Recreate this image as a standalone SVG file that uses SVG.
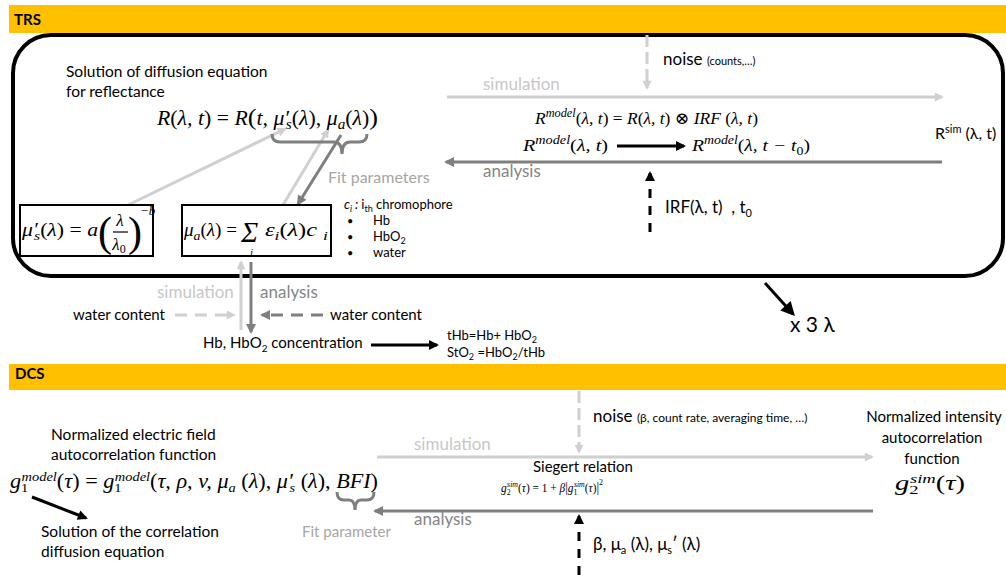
<svg xmlns="http://www.w3.org/2000/svg" width="1006" height="575" viewBox="0 0 1006 575">
<style>
.t{font-family:Lato,"Liberation Sans","DejaVu Sans",sans-serif;fill:#000}
.b{font-weight:bold}
.m{font-family:"Liberation Serif","DejaVu Serif",serif;font-style:italic;fill:#000}
.up{font-style:normal}
.sim{fill:#c8c8c8}
.ana{fill:#868686}
.fit{fill:#a6a6a6}
.lg{stroke:#d0d0d0;stroke-width:3;fill:none}
.dg{stroke:#7f7f7f;stroke-width:3;fill:none}
.bk{stroke:#000;stroke-width:3;fill:none}
.box{fill:#fff;stroke:#000;stroke-width:2}
</style>
<defs>
<marker id="mL" viewBox="0 0 10 10" refX="8" refY="5" markerWidth="10" markerHeight="9" markerUnits="userSpaceOnUse" orient="auto"><path d="M0,0 L10,5 L0,10 z" fill="#d0d0d0"/></marker>
<marker id="mD" viewBox="0 0 10 10" refX="8" refY="5" markerWidth="11" markerHeight="10" markerUnits="userSpaceOnUse" orient="auto"><path d="M0,0 L10,5 L0,10 z" fill="#7f7f7f"/></marker>
<marker id="mK" viewBox="0 0 10 10" refX="8" refY="5" markerWidth="11" markerHeight="10" markerUnits="userSpaceOnUse" orient="auto"><path d="M0,0 L10,5 L0,10 z" fill="#000"/></marker>
<marker id="mKb" viewBox="0 0 10 10" refX="8" refY="5" markerWidth="15" markerHeight="14" markerUnits="userSpaceOnUse" orient="auto"><path d="M0,0 L10,5 L0,10 z" fill="#000"/></marker>
</defs>
<rect width="1006" height="575" fill="#fff"/>

<g id="trs-header">
<rect x="9" y="5" width="997" height="28" fill="#FFC000"/>
<text class="t b" x="14" y="25" font-size="15">TRS</text>
</g>
<g id="trs-frame">
<rect x="13" y="35" width="990" height="241" rx="38" ry="38" fill="none" stroke="#000" stroke-width="4"/>
</g>
<g id="dcs-header">
<rect x="9" y="364" width="997" height="26" fill="#FFC000"/>
<text class="t b" x="15" y="379" font-size="15">DCS</text>
</g>

<g id="connectors">
<line class="lg" x1="447" y1="97" x2="942" y2="97" marker-end="url(#mL)"/>
<line class="dg" x1="942" y1="162" x2="446" y2="162" marker-end="url(#mD)"/>
<line class="lg" x1="647" y1="35" x2="647" y2="88" stroke-dasharray="12 5" marker-end="url(#mL)"/>
<line class="bk" x1="650" y1="232" x2="650" y2="173" stroke-dasharray="9 8" marker-end="url(#mK)"/>
<line class="bk" x1="617" y1="146" x2="684" y2="146" stroke-width="2.5" marker-end="url(#mK)"/>
<line class="lg" x1="128" y1="205" x2="285" y2="129" marker-end="url(#mL)"/>
<line class="lg" x1="283" y1="205" x2="328" y2="130" marker-end="url(#mL)"/>
<line class="dg" x1="341" y1="135" x2="298" y2="204" marker-end="url(#mD)"/>
<line class="lg" x1="241" y1="330" x2="241" y2="262" marker-end="url(#mL)"/>
<line class="dg" x1="251" y1="262" x2="251" y2="332" marker-end="url(#mD)"/>
<line class="lg" x1="175" y1="315" x2="234" y2="315" stroke-dasharray="12 8" marker-end="url(#mL)"/>
<line class="dg" x1="323" y1="315" x2="262" y2="315" stroke-dasharray="12 8" marker-end="url(#mD)"/>
<line class="bk" x1="371" y1="345" x2="437" y2="345" marker-end="url(#mK)"/>
<line class="bk" x1="765" y1="283" x2="793" y2="314" stroke-width="5" marker-end="url(#mKb)"/>
<line class="lg" x1="377" y1="457" x2="872" y2="457" marker-end="url(#mL)"/>
<line class="dg" x1="873" y1="511" x2="375" y2="511" marker-end="url(#mD)"/>
<line class="lg" x1="579" y1="391" x2="579" y2="452" stroke-dasharray="12 5" marker-end="url(#mL)"/>
<line class="bk" x1="579" y1="575" x2="579" y2="516" stroke-dasharray="9 8" marker-end="url(#mK)"/>
<line class="bk" x1="32" y1="497" x2="86" y2="518" marker-end="url(#mK)"/>
<path class="dg" stroke-width="2.5" d="M272,134 Q272,142 280,142 L334,142 Q342,142 342,154 Q342,142 350,142 L359,142 Q367,142 367,134"/>
<path class="dg" stroke-width="2.5" d="M337,492 Q337,500 344,500 L349,500 Q355,500 355,510 Q355,500 361,500 L367,500 Q374,500 374,492"/>
</g>

<g id="reflectance">
<text class="t" x="66" y="77" font-size="15.5">Solution of diffusion equation</text>
<text class="t" x="66" y="97" font-size="15.5">for reflectance</text>
<text class="m" x="157" y="125" font-size="20" textLength="221" lengthAdjust="spacingAndGlyphs">R<tspan class="up">(</tspan>λ, t<tspan class="up">) = </tspan>R<tspan class="up" font-size="24">(</tspan>t, μ′<tspan dx="-3" dy="4" font-size="14">s</tspan><tspan dy="-4" class="up">(</tspan>λ<tspan class="up">),</tspan> μ<tspan dy="4" font-size="14">a</tspan><tspan dy="-4" class="up">(</tspan>λ<tspan class="up">)</tspan><tspan class="up" font-size="24">)</tspan></text>
</g>

<g id="mus-box">
<rect class="box" x="20" y="205" width="133" height="51"/>
<text class="m" x="22" y="236" font-size="18" textLength="76" lengthAdjust="spacingAndGlyphs">μ′<tspan dx="-3" dy="4" font-size="13">s</tspan><tspan dy="-4" class="up">(</tspan>λ<tspan class="up">) = </tspan>a</text>
<text class="m up" x="98" y="246" font-size="42" font-style="normal">(</text>
<text class="m" x="120" y="226" font-size="17" text-anchor="middle">λ</text>
<line x1="113" y1="232" x2="128" y2="232" stroke="#000" stroke-width="1.2"/>
<text class="m" x="119" y="250" font-size="17" text-anchor="middle">λ<tspan class="up" dy="3" font-size="12">0</tspan></text>
<text class="m up" x="128" y="246" font-size="42" font-style="normal">)</text>
<text class="m" x="140" y="215" font-size="13">−b</text>
</g>

<g id="mua-box">
<rect class="box" x="182" y="205" width="149" height="51"/>
<text class="m" x="184" y="236" font-size="18" textLength="53" lengthAdjust="spacingAndGlyphs">μ<tspan dy="4" font-size="13">a</tspan><tspan dy="-4" class="up">(</tspan>λ<tspan class="up">) =</tspan></text>
<text class="m" x="241" y="242" font-size="29" font-style="normal">Σ</text>
<text class="m" x="250" y="256" font-size="11">i</text>
<text class="m" x="265" y="236" font-size="18" textLength="63" lengthAdjust="spacingAndGlyphs">ε<tspan dy="4" font-size="13">i</tspan><tspan dy="-4" class="up">(</tspan>λ<tspan class="up">)</tspan>c <tspan dy="4" font-size="13">i</tspan></text>
</g>

<g id="chromophores">
<text class="t fit" x="328" y="183" font-size="16">Fit parameters</text>
<text class="t" x="344" y="209" font-size="13"><tspan font-style="italic">c</tspan><tspan dy="3" font-size="9" font-style="italic">i</tspan><tspan dy="-3" font-style="italic"> : </tspan>i<tspan dy="3" font-size="9">th</tspan><tspan dy="-3"> chromophore</tspan></text>
<text class="t" x="347" y="225" font-size="11">•</text>
<text class="t" x="373" y="225" font-size="13">Hb</text>
<text class="t" x="347" y="241" font-size="11">•</text>
<text class="t" x="373" y="241" font-size="13">HbO<tspan dy="3" font-size="9">2</tspan></text>
<text class="t" x="347" y="257" font-size="11">•</text>
<text class="t" x="373" y="257" font-size="13">water</text>
</g>

<g id="trs-model">
<text class="t sim" x="483" y="90" font-size="17">simulation</text>
<text class="t" x="663" y="65" font-size="17">noise <tspan font-size="11">(counts,…)</tspan></text>
<text class="m" x="535" y="124" font-size="17" textLength="223" lengthAdjust="spacingAndGlyphs">R<tspan dy="-7" font-size="12">model</tspan><tspan dy="7" class="up">(</tspan>λ, t<tspan class="up">) = </tspan>R<tspan class="up">(</tspan>λ, t<tspan class="up">) ⊗ </tspan>IRF <tspan class="up">(</tspan>λ, t<tspan class="up">)</tspan></text>
<text class="m" x="523" y="151" font-size="17" textLength="85" lengthAdjust="spacingAndGlyphs">R<tspan dy="-7" font-size="12">model</tspan><tspan dy="7" class="up">(</tspan>λ, t<tspan class="up">)</tspan></text>
<text class="m" x="692" y="151" font-size="17" textLength="118" lengthAdjust="spacingAndGlyphs">R<tspan dy="-7" font-size="12">model</tspan><tspan dy="7" class="up">(</tspan>λ, t − t<tspan dy="4" font-size="12" class="up">0</tspan><tspan dy="-4" class="up">)</tspan></text>
<text class="t ana" x="483" y="177" font-size="17">analysis</text>
<text class="t" x="665" y="213" font-size="17">IRF(λ, t)&#160;&#160;, t<tspan dy="4" font-size="11">0</tspan></text>
<text class="t" x="935" y="139" font-size="16">R<tspan dy="-6" font-size="11">sim</tspan><tspan dy="6"> (λ, t)</tspan></text>
</g>

<g id="concentration">
<text class="t sim" x="157" y="298" font-size="17">simulation</text>
<text class="t ana" x="260" y="298" font-size="17">analysis</text>
<text class="t" x="73" y="320" font-size="15">water content</text>
<text class="t" x="330" y="320" font-size="15">water content</text>
<text class="t" x="203" y="348" font-size="15">Hb, HbO<tspan dy="4" font-size="10">2</tspan><tspan dy="-4"> concentration</tspan></text>
<text class="t" x="447" y="340" font-size="13">tHb=Hb+ HbO<tspan dy="3" font-size="9">2</tspan></text>
<text class="t" x="447" y="357" font-size="13">StO<tspan dy="3" font-size="9">2</tspan><tspan dy="-3"> =HbO</tspan><tspan dy="3" font-size="9">2</tspan><tspan dy="-3">/tHb</tspan></text>
<text class="t" x="790" y="332" font-size="21">x 3 λ</text>
</g>

<g id="dcs-model">
<text class="t" x="51" y="440" font-size="15.5">Normalized electric field</text>
<text class="t" x="51" y="460" font-size="15.5">autocorrelation function</text>
<text class="m" x="10" y="488" font-size="20" textLength="368" lengthAdjust="spacingAndGlyphs">g<tspan dy="4" font-size="13" class="up">1</tspan><tspan dx="-6" dy="-11" font-size="13">model</tspan><tspan dy="7" class="up">(</tspan>τ<tspan class="up">) = </tspan>g<tspan dy="4" font-size="13" class="up">1</tspan><tspan dx="-6" dy="-11" font-size="13">model</tspan><tspan dy="7" class="up">(</tspan>τ, ρ, v, μ<tspan dy="4" font-size="13">a</tspan><tspan dy="-4" class="up"> (</tspan>λ<tspan class="up">),</tspan> μ′<tspan dx="-3" dy="4" font-size="13">s</tspan><tspan dy="-4" class="up"> (</tspan>λ<tspan class="up">),</tspan> BFI<tspan class="up">)</tspan></text>
<text class="t" x="41" y="537" font-size="15.5">Solution of the correlation</text>
<text class="t" x="41" y="557" font-size="15.5">diffusion equation</text>
<text class="t fit" x="302" y="537" font-size="15">Fit parameter</text>
<text class="t sim" x="414" y="450" font-size="17">simulation</text>
<text class="t ana" x="414" y="525" font-size="17">analysis</text>
<text class="t" x="593" y="422" font-size="17">noise <tspan font-size="12">(β, count rate, averaging time, …)</tspan></text>
<text class="t" x="583" y="472" font-size="15" text-anchor="middle">Siegert relation</text>
<text class="m" x="501" y="492" font-size="13" textLength="102" lengthAdjust="spacingAndGlyphs">g<tspan dy="3" font-size="9" class="up">2</tspan><tspan dx="-4" dy="-8" font-size="9">sim</tspan><tspan dy="5" class="up">(</tspan>τ<tspan class="up">) = 1 + </tspan>β<tspan class="up" font-size="15">|</tspan>g<tspan dy="3" font-size="9" class="up">1</tspan><tspan dx="-4" dy="-8" font-size="9">sim</tspan><tspan dy="5" class="up">(</tspan>τ<tspan class="up">)</tspan><tspan class="up" font-size="15">|</tspan><tspan dy="-7" font-size="9" class="up">2</tspan></text>
<text class="t" x="593" y="550" font-size="17">β, μ<tspan dy="4" font-size="11">a</tspan><tspan dy="-4"> (λ), μ</tspan><tspan dy="4" font-size="11">s</tspan><tspan dy="-4">′ (λ)</tspan></text>
</g>

<g id="intensity">
<text class="t" x="934" y="422" font-size="15" text-anchor="middle">Normalized intensity</text>
<text class="t" x="932" y="443" font-size="15" text-anchor="middle">autocorrelation</text>
<text class="t" x="932" y="464" font-size="15" text-anchor="middle">function</text>
<text class="m" x="895" y="490" font-size="20" textLength="70" lengthAdjust="spacingAndGlyphs">g<tspan dy="4" font-size="13" class="up">2</tspan><tspan dx="-6" dy="-11" font-size="13">sim</tspan><tspan dy="7" class="up">(</tspan>τ<tspan class="up">)</tspan></text>
</g>
</svg>
